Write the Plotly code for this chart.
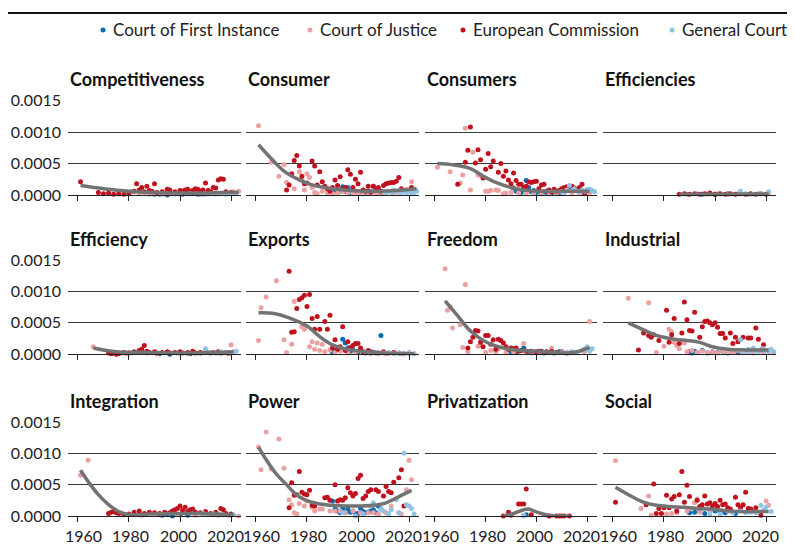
import plotly.graph_objects as go

# Frequencies per word, written in units of 1e-5
UNIT = 1e-5

COURTS = ["Court of First Instance", "Court of Justice", "European Commission", "General Court"]
PANELS = ["Competitiveness", "Consumer", "Consumers", "Efficiencies",
          "Efficiency", "Exports", "Freedom", "Industrial",
          "Integration", "Power", "Privatization", "Social"]
X_TICKS = [1960, 1980, 2000, 2020]
Y_TICKS = [0, 0.0005, 0.0010, 0.0015]
Y_TICK_TEXT = ["0.0000", "0.0005", "0.0010", "0.0015"]

# ---------------- Competitiveness ----------------
COMP_CFI_Y = [1990, 1992, 1995, 1998, 2001, 2004, 2007]
COMP_CFI_V = [1, 1, 0, 2, 1, 2, 1]
COMP_CJ_Y = [1979, 1981, 1984, 1986, 1988, 1990, 1992, 1994, 1996, 1998, 2000, 2003, 2006, 2009, 2012, 2015, 2018, 2021, 2023]
COMP_CJ_V = [3, 5, 2, 4, 1, 3, 2, 1, 3, 2, 4, 2, 3, 1, 2, 3, 2, 5, 6]
COMP_EC_Y = [1961, 1968, 1970, 1972, 1974, 1976, 1978, 1980, 1982, 1983, 1984, 1985, 1986, 1987, 1988, 1989, 1990, 1991, 1993, 1995,
             1996, 1998, 2000, 2001, 2002, 2003, 2004, 2005, 2006, 2007, 2008, 2009, 2010, 2011, 2012, 2013, 2014, 2015, 2016, 2017, 2018, 2020]
COMP_EC_V = [21, 4, 2, 3, 1, 2, 1, 3, 6, 18, 8, 12, 5, 14, 7, 6, 18, 4, 5, 9,
             8, 5, 7, 6, 8, 9, 6, 7, 10, 9, 6, 8, 19, 7, 5, 12, 11, 24, 26, 25, 5, 4]
COMP_GC_Y = [2000, 2004, 2008, 2010, 2012, 2014, 2016, 2018, 2020, 2022]
COMP_GC_V = [1, 2, 1, 1, 2, 1, 2, 1, 2, 3]
COMP_FIT_Y = [1961, 1970, 1980, 1990, 2000, 2010, 2017, 2023]
COMP_FIT_V = [15, 10, 6, 4, 3, 3, 4, 4]

# ---------------- Consumer ----------------
CONR_CFI_Y = [1990, 1991, 1992, 1993, 1994, 1995, 1996, 1997, 1998, 1999, 2000, 2001, 2002, 2003, 2004, 2005, 2006, 2007, 2008, 2009]
CONR_CFI_V = [2, 8, 4, 6, 13, 5, 12, 3, 4, 6, 3, 5, 2, 4, 6, 3, 14, 5, 3, 4]
CONR_CJ_Y = [1961, 1966, 1969, 1971, 1972, 1975, 1977, 1978, 1979, 1980, 1981, 1982, 1983, 1984, 1986, 1988, 1990, 1992, 1994, 1996,
             1998, 2000, 2002, 2004, 2006, 2008, 2010, 2012, 2014, 2016, 2018, 2020, 2021]
CONR_CJ_V = [110, 52, 30, 48, 20, 10, 37, 26, 8, 34, 28, 12, 4, 2, 6, 3, 2, 3, 5, 4,
             2, 3, 2, 4, 3, 2, 3, 5, 3, 4, 6, 8, 21]
CONR_EC_Y = [1972, 1973, 1974, 1975, 1976, 1977, 1978, 1979, 1980, 1982, 1983, 1984, 1985, 1986, 1987, 1988, 1989, 1990, 1991, 1992,
             1993, 1994, 1995, 1996, 1997, 1998, 1999, 2000, 2001, 2002, 2003, 2004, 2005, 2006, 2007, 2008, 2009, 2010, 2011, 2012,
             2013, 2014, 2015, 2016, 2017, 2019, 2021]
CONR_EC_V = [8, 16, 34, 55, 63, 46, 30, 18, 19, 54, 46, 16, 37, 21, 14, 10, 6, 12, 24, 15,
             29, 10, 12, 40, 33, 12, 25, 18, 36, 8, 6, 14, 5, 14, 8, 12, 6, 15, 18, 19,
             20, 20, 22, 28, 10, 8, 12]
CONR_GC_Y = [2010, 2011, 2012, 2013, 2014, 2015, 2016, 2017, 2018, 2019, 2020, 2021, 2022, 2023]
CONR_GC_V = [5, 3, 6, 4, 8, 5, 7, 3, 6, 4, 5, 3, 4, 6]
CONR_FIT_Y = [1961, 1966, 1971, 1977, 1982, 1988, 1995, 2002, 2008, 2015, 2021, 2023]
CONR_FIT_V = [80, 58, 38, 24, 16, 11, 8, 6, 6, 7, 9, 10]

# ---------------- Consumers ----------------
CONS_CFI_Y = [1991, 1992, 1993, 1994, 1995, 1996, 1997, 1998, 1999, 2000, 2001, 2002, 2003, 2004, 2005, 2006, 2007, 2008, 2009]
CONS_CFI_V = [11, 6, 8, 4, 9, 23, 12, 5, 7, 4, 6, 3, 5, 4, 6, 3, 5, 4, 3]
CONS_CJ_Y = [1961, 1966, 1970, 1971, 1972, 1974, 1975, 1977, 1978, 1980, 1981, 1982, 1984, 1985, 1987, 1988, 1990, 1993, 1996, 1999,
             2002, 2005, 2008, 2011, 2014, 2017, 2020, 2021]
CONS_CJ_V = [44, 37, 19, 32, 106, 8, 68, 32, 31, 6, 6, 7, 8, 7, 2, 3, 4, 3, 2, 3,
             4, 2, 3, 4, 2, 3, 4, 3]
CONS_EC_Y = [1969, 1972, 1973, 1974, 1976, 1977, 1978, 1979, 1980, 1981, 1982, 1983, 1985, 1986, 1987, 1988, 1989, 1990, 1991, 1992,
             1993, 1994, 1995, 1996, 1997, 1998, 1999, 2000, 2001, 2002, 2003, 2004, 2005, 2006, 2007, 2008, 2009, 2010, 2011, 2012,
             2013, 2014, 2015, 2016, 2017, 2018, 2019, 2020]
CONS_EC_V = [17, 52, 71, 108, 51, 72, 56, 27, 41, 66, 45, 54, 36, 50, 30, 38, 24, 18, 35, 23,
             17, 17, 12, 14, 21, 20, 21, 22, 10, 16, 17, 6, 8, 5, 9, 6, 7, 10, 12, 13,
             13, 14, 11, 9, 12, 17, 2, 8]
CONS_GC_Y = [2010, 2011, 2012, 2013, 2014, 2015, 2016, 2017, 2018, 2019, 2020, 2021, 2022, 2023]
CONS_GC_V = [5, 4, 8, 15, 7, 10, 6, 5, 8, 6, 9, 9, 7, 5]
CONS_FIT_Y = [1961, 1967, 1974, 1979, 1984, 1990, 1995, 2001, 2009, 2015, 2021]
CONS_FIT_V = [50, 48, 42, 30, 20, 12, 8, 6, 6, 6, 6]

# ---------------- Efficiencies ----------------
EFFS_CFI_Y = [1995, 2000, 2005]
EFFS_CFI_V = [1, 1, 2]
EFFS_CJ_Y = [1989, 1993, 1997, 2001, 2005, 2009, 2013, 2017, 2021]
EFFS_CJ_V = [1, 2, 1, 2, 1, 2, 1, 2, 3]
EFFS_EC_Y = [1986, 1988, 1990, 1992, 1994, 1996, 1998, 2000, 2002, 2004, 2006, 2008, 2010, 2012, 2014, 2016, 2018, 2020]
EFFS_EC_V = [1, 2, 1, 2, 1, 2, 3, 1, 2, 1, 2, 1, 2, 1, 2, 1, 2, 1]
EFFS_GC_Y = [2010, 2012, 2015, 2018, 2021]
EFFS_GC_V = [6, 2, 1, 2, 5]
EFFS_FIT_Y = [1986, 2000, 2021]
EFFS_FIT_V = [1, 1, 1.5]

# ---------------- Efficiency ----------------
EFF_CFI_Y = [1992, 1996, 2000, 2004, 2008]
EFF_CFI_V = [1, 0, 2, 1, 2]
EFF_CJ_Y = [1966, 1975, 1979, 1983, 1987, 1991, 1995, 1999, 2003, 2007, 2011, 2015, 2019, 2020, 2021]
EFF_CJ_V = [12, 2, 1, 3, 2, 1, 3, 2, 1, 2, 3, 2, 1, 15, 4]
EFF_EC_Y = [1972, 1973, 1974, 1975, 1976, 1978, 1980, 1982, 1984, 1985, 1986, 1987, 1988, 1990, 1991, 1993, 1995, 1996, 1998, 2000,
            2001, 2003, 2005, 2006, 2008, 2010, 2012, 2013, 2015, 2016, 2018, 2019]
EFF_EC_V = [2, 1, 2, 0, 1, 3, 2, 4, 6, 8, 14, 5, 3, 4, 2, 3, 4, 2, 3, 4,
            2, 3, 5, 2, 3, 4, 2, 3, 4, 2, 3, 2]
EFF_GC_Y = [2010, 2012, 2014, 2016, 2018, 2020, 2022]
EFF_GC_V = [9, 3, 2, 4, 3, 2, 5]
EFF_FIT_Y = [1966, 1975, 1988, 2001, 2014, 2021]
EFF_FIT_V = [10, 4, 3, 2, 3, 4]

# ---------------- Exports ----------------
EXP_CFI_Y = [1990, 1991, 1993, 1994, 1995, 1996, 1997, 1998, 1999, 2000, 2001, 2002, 2003, 2005, 2007, 2009]
EXP_CFI_V = [3, 6, 9, 24, 18, 10, 5, 7, 3, 4, 8, 3, 2, 4, 2, 30]
EXP_CJ_Y = [1961, 1962, 1964, 1968, 1971, 1972, 1974, 1975, 1978, 1979, 1981, 1982, 1983, 1984, 1985, 1986, 1987, 1989, 1991, 1993,
            1996, 1999, 2002, 2005, 2008, 2011, 2014, 2017, 2020, 2022]
EXP_CJ_V = [22, 74, 91, 117, 23, 3, 16, 84, 44, 40, 12, 20, 8, 18, 6, 16, 4, 7, 3, 5,
            2, 3, 2, 1, 2, 1, 2, 1, 2, 1]
EXP_EC_Y = [1973, 1974, 1975, 1976, 1977, 1978, 1979, 1980, 1981, 1982, 1983, 1984, 1985, 1987, 1988, 1989, 1990, 1991, 1992, 1993,
            1994, 1995, 1996, 1997, 1998, 1999, 2000, 2001, 2002, 2004, 2006, 2008, 2010, 2012, 2014, 2016, 2018, 2020]
EXP_EC_V = [132, 35, 36, 73, 87, 90, 94, 76, 95, 57, 40, 60, 40, 52, 40, 62, 10, 23, 8, 12,
            44, 6, 20, 11, 14, 17, 17, 10, 4, 6, 3, 2, 4, 2, 3, 2, 1, 2]
EXP_GC_Y = [2010, 2012, 2014, 2016, 2018, 2020, 2022]
EXP_GC_V = [2, 3, 1, 2, 1, 2, 1]
EXP_FIT_Y = [1961, 1967, 1973, 1980, 1985, 1990, 1997, 2003, 2010, 2016, 2022]
EXP_FIT_V = [66, 65, 58, 45, 28, 15, 7, 4, 2, 1, 1]

# ---------------- Freedom ----------------
FREE_CFI_Y = [1990, 1992, 1994, 1995, 1997, 1999, 2001, 2003, 2005, 2007, 2009]
FREE_CFI_V = [3, 4, 6, 10, 4, 3, 5, 2, 3, 2, 4]
FREE_CJ_Y = [1964, 1965, 1966, 1967, 1970, 1971, 1972, 1973, 1977, 1978, 1980, 1982, 1984, 1985, 1988, 1991, 1995, 1998, 2001, 2004,
             2006, 2010, 2013, 2016, 2019, 2021]
FREE_CJ_V = [136, 70, 76, 42, 47, 11, 111, 4, 13, 14, 3, 6, 4, 9, 3, 4, 17, 2, 3, 4,
             10, 3, 2, 3, 4, 52]
FREE_EC_Y = [1973, 1974, 1975, 1976, 1977, 1978, 1979, 1980, 1981, 1982, 1983, 1984, 1985, 1986, 1987, 1988, 1989, 1990, 1991, 1992,
             1993, 1994, 1996, 1998, 2000, 2002, 2004, 2006, 2008, 2010, 2012, 2014]
FREE_EC_V = [10, 20, 27, 38, 37, 19, 12, 30, 30, 16, 23, 8, 24, 22, 18, 12, 8, 10, 9, 10,
             5, 6, 5, 5, 4, 5, 4, 5, 3, 4, 2, 3]
FREE_GC_Y = [2010, 2012, 2014, 2016, 2018, 2019, 2020, 2021, 2022]
FREE_GC_V = [3, 2, 4, 3, 6, 8, 12, 5, 9]
FREE_FIT_Y = [1964, 1969, 1974, 1980, 1987, 1994, 2000, 2007, 2012, 2016, 2021]
FREE_FIT_V = [85, 61, 37, 20, 10, 6, 5, 3, 2, 4, 11]

# ---------------- Industrial ----------------
IND_CFI_Y = [1990, 1991, 1992, 1993, 1995, 1997, 1999, 2001, 2003, 2005, 2007, 2009]
IND_CFI_V = [4, 2, 5, 3, 6, 2, 4, 3, 5, 2, 4, 3]
IND_CJ_Y = [1966, 1974, 1977, 1980, 1982, 1983, 1984, 1985, 1986, 1988, 1989, 1991, 1993, 1995, 1997, 1999, 2001, 2003, 2005, 2007,
            2009, 2011, 2013, 2015, 2017, 2019, 2021, 2023]
IND_CJ_V = [89, 82, 3, 13, 40, 36, 19, 14, 9, 18, 4, 6, 3, 5, 3, 4, 2, 5, 3, 4,
            6, 3, 4, 2, 5, 3, 4, 2]
IND_EC_Y = [1970, 1972, 1974, 1975, 1976, 1978, 1981, 1982, 1983, 1984, 1986, 1987, 1988, 1989, 1990, 1991, 1992, 1994, 1995, 1996,
            1997, 1998, 1999, 2000, 2001, 2002, 2003, 2004, 2006, 2007, 2008, 2009, 2011, 2013, 2014, 2016, 2017, 2018, 2019]
IND_EC_V = [7, 34, 30, 27, 31, 22, 70, 19, 31, 57, 17, 34, 83, 55, 38, 37, 67, 27, 44, 52,
            53, 50, 47, 50, 43, 33, 33, 26, 34, 17, 27, 20, 27, 26, 26, 42, 24, 7, 15]
IND_GC_Y = [2010, 2011, 2012, 2013, 2014, 2015, 2016, 2017, 2018, 2019, 2020, 2021, 2022, 2023]
IND_GC_V = [23, 6, 4, 8, 5, 10, 6, 4, 7, 9, 5, 6, 8, 4]
IND_FIT_Y = [1966, 1972, 1977, 1984, 1989, 1994, 1999, 2005, 2012, 2021]
IND_FIT_V = [50, 39, 30, 24, 22, 19, 12, 8, 7, 7]

# ---------------- Integration ----------------
INTG_CFI_Y = [1993, 1995, 1997, 2000, 2003, 2006]
INTG_CFI_V = [1, 3, 0, 2, 1, 3]
INTG_CJ_Y = [1961, 1964, 1978, 1985, 1992, 1999, 2006, 2013, 2020, 2023]
INTG_CJ_V = [65, 89, 2, 1, 3, 2, 1, 2, 1, 0]
INTG_EC_Y = [1972, 1973, 1974, 1975, 1976, 1978, 1980, 1982, 1984, 1986, 1988, 1990, 1992, 1994, 1996, 1997, 1998, 1999, 2000, 2001,
             2002, 2003, 2004, 2005, 2006, 2008, 2010, 2012, 2014, 2016, 2017, 2018, 2020]
INTG_EC_V = [4, 6, 7, 5, 4, 2, 3, 6, 8, 4, 6, 5, 4, 6, 5, 8, 10, 12, 16, 9,
             14, 7, 10, 11, 6, 5, 7, 4, 6, 12, 10, 4, 3]
INTG_GC_Y = [2009, 2011, 2013, 2015, 2017, 2019, 2021]
INTG_GC_V = [4, 2, 3, 1, 2, 1, 2]
INTG_FIT_Y = [1961, 1964, 1968, 1972, 1976, 1981, 1988, 1995, 2001, 2008, 2015, 2021]
INTG_FIT_V = [73, 55, 34, 18, 7, 2, 3, 4, 4, 4, 3, 2]

# ---------------- Power ----------------
POW_CFI_Y = [1990, 1991, 1992, 1993, 1994, 1995, 1996, 1997, 1998, 1999, 2000, 2001, 2002, 2003, 2004, 2005, 2006, 2007, 2008, 2009]
POW_CFI_V = [24, 11, 8, 5, 12, 5, 11, 6, 8, 3, 4, 12, 7, 5, 6, 8, 10, 5, 16, 11]
POW_CJ_Y = [1961, 1962, 1964, 1966, 1969, 1971, 1973, 1974, 1975, 1976, 1977, 1979, 1980, 1982, 1983, 1985, 1986, 1989, 1991, 1993,
            1995, 1998, 2001, 2004, 2006, 2008, 2011, 2013, 2016, 2017, 2019, 2020, 2021]
POW_CJ_V = [110, 74, 134, 75, 123, 76, 26, 18, 5, 3, 20, 16, 24, 14, 8, 11, 11, 8, 8, 8,
            5, 8, 5, 5, 5, 3, 5, 16, 5, 3, 42, 89, 58]
POW_EC_Y = [1973, 1974, 1975, 1976, 1977, 1978, 1979, 1980, 1981, 1982, 1983, 1987, 1988, 1989, 1991, 1992, 1993, 1994, 1995, 1996,
            1997, 1998, 1999, 2000, 2001, 2002, 2003, 2004, 2005, 2007, 2008, 2010, 2011, 2012, 2013, 2014, 2016, 2017, 2018]
POW_EC_V = [13, 53, 33, 34, 71, 38, 35, 34, 41, 17, 16, 29, 30, 25, 50, 24, 26, 25, 29, 45,
            37, 32, 36, 60, 65, 28, 32, 39, 42, 42, 39, 32, 47, 39, 37, 54, 61, 74, 16]
POW_GC_Y = [1994, 1999, 2002, 2005, 2006, 2009, 2010, 2012, 2013, 2015, 2016, 2018, 2019, 2020, 2021, 2022]
POW_GC_V = [5, 0, 3, 16, 21, 11, 8, 3, 10, 26, 5, 100, 18, 16, 12, 3]
POW_FIT_Y = [1961, 1964, 1968, 1972, 1975, 1979, 1985, 1990, 1995, 2000, 2006, 2011, 2016, 2021]
POW_FIT_V = [110, 90, 67, 50, 37, 26, 19, 17, 16, 16, 17, 21, 31, 41]

# ---------------- Privatization ----------------
PRIV_CFI_Y = [1996]
PRIV_CFI_V = [2]
PRIV_CJ_Y = [1995, 2006]
PRIV_CJ_V = [1, 0]
PRIV_EC_Y = [1987, 1989, 1990, 1993, 1994, 1995, 1996, 1998, 2005, 2008, 2009, 2010, 2011, 2013]
PRIV_EC_V = [0, 6, 1, 19, 19, 19, 43, 2, 0, 0, 0, 0, 0, 0]
PRIV_GC_Y = [1995]
PRIV_GC_V = [0]
PRIV_FIT_Y = [1987, 1991, 1995, 1997, 1999, 2002, 2005, 2013]
PRIV_FIT_V = [0, 4, 10, 11, 8, 4, 1, 0]

# ---------------- Social ----------------
SOC_CFI_Y = [1990, 1992, 1994, 1996, 1998, 2000, 2002, 2004, 2006, 2008]
SOC_CFI_V = [5, 6, 8, 4, 10, 8, 6, 5, 8, 4]
SOC_CJ_Y = [1961, 1971, 1974, 1975, 1981, 1983, 1985, 1989, 1991, 1992, 1993, 1994, 1998, 2005, 2010, 2015, 2020, 2021]
SOC_CJ_V = [88, 12, 32, 1, 3, 4, 5, 8, 12, 21, 27, 6, 9, 8, 11, 8, 24, 17]
SOC_EC_Y = [1961, 1973, 1976, 1977, 1978, 1979, 1980, 1981, 1982, 1983, 1984, 1985, 1986, 1987, 1988, 1989, 1990, 1993, 1994, 1995,
            1996, 1997, 1998, 1999, 2000, 2001, 2002, 2003, 2004, 2005, 2006, 2008, 2009, 2010, 2011, 2012, 2013, 2014, 2016, 2018]
SOC_EC_V = [22, 18, 51, 4, 12, 4, 13, 33, 13, 27, 31, 8, 34, 71, 22, 49, 31, 25, 15, 18,
            32, 19, 21, 16, 20, 15, 25, 18, 19, 13, 11, 30, 18, 13, 18, 38, 12, 11, 13, 1]
SOC_GC_Y = [1998, 2002, 2007, 2010, 2012, 2014, 2016, 2018, 2019, 2020, 2022]
SOC_GC_V = [3, 3, 5, 8, 5, 6, 5, 17, 9, 14, 7]
SOC_FIT_Y = [1961, 1967, 1972, 1977, 1982, 1988, 1993, 1998, 2003, 2010, 2015, 2021]
SOC_FIT_V = [46, 32, 22, 17, 15, 14, 12, 11, 9, 7, 7, 7]

# ---------------- assemble ----------------
PANEL_DATA = [
    (COMP_CFI_Y, COMP_CFI_V, COMP_CJ_Y, COMP_CJ_V, COMP_EC_Y, COMP_EC_V, COMP_GC_Y, COMP_GC_V, COMP_FIT_Y, COMP_FIT_V),
    (CONR_CFI_Y, CONR_CFI_V, CONR_CJ_Y, CONR_CJ_V, CONR_EC_Y, CONR_EC_V, CONR_GC_Y, CONR_GC_V, CONR_FIT_Y, CONR_FIT_V),
    (CONS_CFI_Y, CONS_CFI_V, CONS_CJ_Y, CONS_CJ_V, CONS_EC_Y, CONS_EC_V, CONS_GC_Y, CONS_GC_V, CONS_FIT_Y, CONS_FIT_V),
    (EFFS_CFI_Y, EFFS_CFI_V, EFFS_CJ_Y, EFFS_CJ_V, EFFS_EC_Y, EFFS_EC_V, EFFS_GC_Y, EFFS_GC_V, EFFS_FIT_Y, EFFS_FIT_V),
    (EFF_CFI_Y, EFF_CFI_V, EFF_CJ_Y, EFF_CJ_V, EFF_EC_Y, EFF_EC_V, EFF_GC_Y, EFF_GC_V, EFF_FIT_Y, EFF_FIT_V),
    (EXP_CFI_Y, EXP_CFI_V, EXP_CJ_Y, EXP_CJ_V, EXP_EC_Y, EXP_EC_V, EXP_GC_Y, EXP_GC_V, EXP_FIT_Y, EXP_FIT_V),
    (FREE_CFI_Y, FREE_CFI_V, FREE_CJ_Y, FREE_CJ_V, FREE_EC_Y, FREE_EC_V, FREE_GC_Y, FREE_GC_V, FREE_FIT_Y, FREE_FIT_V),
    (IND_CFI_Y, IND_CFI_V, IND_CJ_Y, IND_CJ_V, IND_EC_Y, IND_EC_V, IND_GC_Y, IND_GC_V, IND_FIT_Y, IND_FIT_V),
    (INTG_CFI_Y, INTG_CFI_V, INTG_CJ_Y, INTG_CJ_V, INTG_EC_Y, INTG_EC_V, INTG_GC_Y, INTG_GC_V, INTG_FIT_Y, INTG_FIT_V),
    (POW_CFI_Y, POW_CFI_V, POW_CJ_Y, POW_CJ_V, POW_EC_Y, POW_EC_V, POW_GC_Y, POW_GC_V, POW_FIT_Y, POW_FIT_V),
    (PRIV_CFI_Y, PRIV_CFI_V, PRIV_CJ_Y, PRIV_CJ_V, PRIV_EC_Y, PRIV_EC_V, PRIV_GC_Y, PRIV_GC_V, PRIV_FIT_Y, PRIV_FIT_V),
    (SOC_CFI_Y, SOC_CFI_V, SOC_CJ_Y, SOC_CJ_V, SOC_EC_Y, SOC_EC_V, SOC_GC_Y, SOC_GC_V, SOC_FIT_Y, SOC_FIT_V),
]

COLORS = ["#0a6cb4", "#eba1a1", "#c0121e", "#91c3e4"]
FONT = "Lato"
# page body has an 8px margin, so the figure starts at (8, 8) in the window
W, H = 787, 536
COL_PX = [(60, 233), (238, 411), (417, 589), (595, 768)]
ROW_PX = [(92.7, 187), (252, 346.3), (414, 508)]
LEGEND_DOT_PX = [95, 302, 455, 664]
LEGEND_Y_PX = 22
# small horizontal nudges so neighbouring panels' year labels don't collide
X_LABEL_NUDGE = [6, 2, -2, -6]

fig = go.Figure()
layout = {}
annotations = []
shapes = []

for i, name in enumerate(PANELS):
    r, c = divmod(i, 4)
    n = i + 1
    xa = "x" if n == 1 else f"x{n}"
    ya = "y" if n == 1 else f"y{n}"
    d = PANEL_DATA[i]
    for k in range(4):
        ys = d[2 * k]
        vs = [v * UNIT for v in d[2 * k + 1]]
        fig.add_trace(go.Scatter(
            x=ys, y=vs, mode="markers", name=COURTS[k], legendgroup=COURTS[k],
            showlegend=False, xaxis=xa, yaxis=ya, cliponaxis=False,
            marker=dict(color=COLORS[k], size=5, line=dict(width=0)),
        ))
    fig.add_trace(go.Scatter(
        x=d[8], y=[v * UNIT for v in d[9]], mode="lines", showlegend=False,
        xaxis=xa, yaxis=ya, line=dict(color="#737373", width=3.5, shape="spline", smoothing=1.0),
        hoverinfo="skip",
    ))
    x0, x1 = COL_PX[c]
    y0, y1 = ROW_PX[r]
    xkey = "xaxis" if n == 1 else f"xaxis{n}"
    ykey = "yaxis" if n == 1 else f"yaxis{n}"
    layout[xkey] = dict(
        domain=[x0 / W, x1 / W], anchor=ya, range=[1956.1, 2023.9],
        tickvals=X_TICKS, showticklabels=False, ticks="outside", ticklen=5,
        tickcolor="#222", showline=True, linecolor="#222", linewidth=1,
        showgrid=False, zeroline=False, automargin=False,
    )
    layout[ykey] = dict(
        domain=[1 - y1 / H, 1 - y0 / H], anchor=xa, range=[0, 0.0015],
        tickvals=Y_TICKS, ticktext=Y_TICK_TEXT, showticklabels=(c == 0),
        showgrid=True, gridcolor="#3a3a3a", gridwidth=1, zeroline=False,
        showline=False, ticks="", automargin=False, ticklabelstandoff=6,
        tickfont=dict(family=FONT, size=16, color="#222"),
    )
    annotations.append(dict(
        text=f"<b>{name}</b>", x=x0 / W, y=1 - (y0 - 21.5) / H,
        xref="paper", yref="paper", xanchor="left", yanchor="middle",
        showarrow=False, font=dict(family=FONT, size=18, color="#111"),
    ))
    if r == 2:
        for j, yr in enumerate(X_TICKS):
            annotations.append(dict(
                text=str(yr), x=yr, xref=xa, y=1 - (y1 + 19) / H, yref="paper",
                xanchor="center", yanchor="middle", xshift=X_LABEL_NUDGE[j],
                showarrow=False, font=dict(family=FONT, size=16, color="#222"),
            ))

# legend drawn as dots + labels
for k, court in enumerate(COURTS):
    cx = LEGEND_DOT_PX[k] / W
    cy = 1 - LEGEND_Y_PX / H
    shapes.append(dict(type="circle", xref="paper", yref="paper",
                       xsizemode="pixel", ysizemode="pixel", xanchor=cx, yanchor=cy,
                       x0=-2.5, x1=2.5, y0=-2.5, y1=2.5,
                       fillcolor=COLORS[k], line=dict(width=0)))
    annotations.append(dict(
        text=court, x=(LEGEND_DOT_PX[k] + 8) / W, y=cy, xref="paper", yref="paper",
        xanchor="left", yanchor="middle", showarrow=False,
        font=dict(family=FONT, size=17, color="#222"),
    ))

shapes.append(dict(type="line", xref="paper", yref="paper", x0=0, x1=1,
                   y0=1 - 5 / H, y1=1 - 5 / H, line=dict(color="#111", width=2)))

fig.update_layout(
    **layout,
    width=W, height=H,
    margin=dict(l=0, r=0, t=0, b=0),
    paper_bgcolor="white", plot_bgcolor="white",
    font=dict(family=FONT, size=16, color="#222"),
    annotations=annotations,
    shapes=shapes,
    showlegend=False,
)

fig.write_html("out.html")
